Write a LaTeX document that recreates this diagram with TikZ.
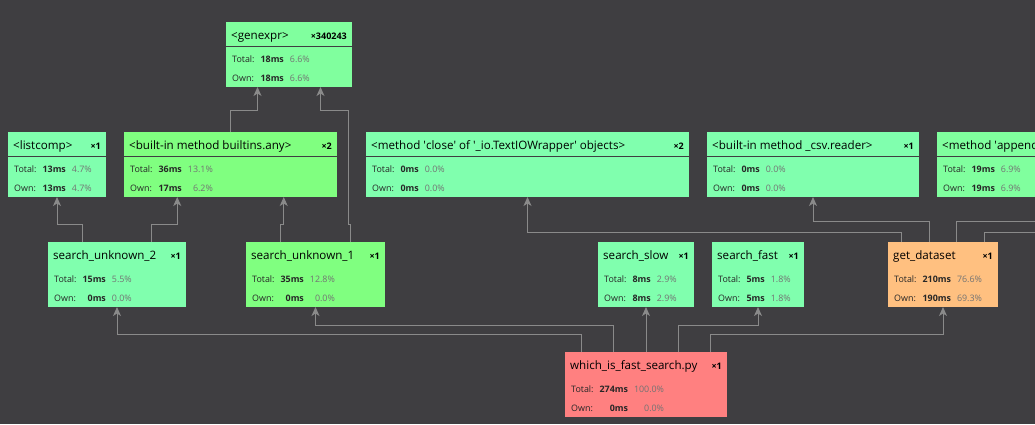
\documentclass[tikz,border=0pt]{standalone}
\usepackage{fontspec}
\setmainfont{Open Sans}
\usepackage{tikz}
\usetikzlibrary{calc,arrows.meta}

\definecolor{canvas}{RGB}{63,62,65}
\definecolor{wire}{RGB}{138,138,138}
\definecolor{mint}{RGB}{128,255,174}
\definecolor{leaf}{RGB}{128,255,158}
\definecolor{lime}{RGB}{128,255,128}
\definecolor{warm}{RGB}{255,192,128}
\definecolor{hot}{RGB}{255,128,128}

\newcommand{\sq}{\textquotesingle}
% one profiler entry: name, corner, width, colour, title, count
\newcommand{\callbox}[6]{%
  \node[callbox, fill=#4, minimum width=#3, anchor=north west] (#1) at #2 {};
  \node[fname, anchor=base west] at ([shift={(5,17)}]#1.north west) {#5};
  \node[fcount, anchor=base east] at ([shift={(-5,17)}]#1.north east) {×#6};
}
% timings of an entry: name, total, total %, own, own %
\newcommand{\calltimes}[5]{%
  \node[ftimes, anchor=base west] at ([shift={(6,40)}]#1.north west)
    {\begin{tabular}[t]{@{}l@{\hspace{6pt}}r@{\hspace{6pt}}r@{}}
      Total: & \textbf{#2} & \textcolor{black!55}{#3\%}\\
      Own:   & \textbf{#4} & \textcolor{black!55}{#5\%}
     \end{tabular}};
}

\begin{document}
\begin{tikzpicture}[x=1pt, y=-1pt,
  callbox/.style={minimum height=65, inner sep=0, outer sep=0},
  fname/.style={font=\fontsize{11.6}{14}\selectfont, inner sep=0},
  fcount/.style={font=\fontsize{9}{10}\selectfont\bfseries, inner sep=0},
  ftimes/.style={font=\fontsize{8.9}{19}\selectfont, text=black!85, inner sep=0},
  divider/.style={draw=canvas, line width=1pt},
  flow/.style={-{Stealth[length=9pt, width=8pt, inset=2.5pt]}, draw=wire, line width=1pt}]

\fill[canvas] (0,0) rectangle (1035,424);
\useasboundingbox (0,0) rectangle (1035,424);
\clip (0,0) rectangle (1035,424);

% Place the entries, row by row
\callbox{genexpr}{(226,22)}{126}{leaf}{<genexpr>}{340243}
\calltimes{genexpr}{18ms}{6.6}{18ms}{6.6}

\callbox{listcomp}{(8,132)}{98}{mint}{<listcomp>}{1}
\calltimes{listcomp}{13ms}{4.7}{13ms}{4.7}
\callbox{anyfn}{(124,132)}{213}{lime}{<built-in method builtins.any>}{2}
\calltimes{anyfn}{36ms}{13.1}{17ms}{6.2}
\callbox{closefn}{(366,132)}{323}{mint}{<method \sq close\sq\ of \sq\_io.TextIOWrapper\sq\ objects>}{2}
\calltimes{closefn}{0ms}{0.0}{0ms}{0.0}
\callbox{csvreader}{(707,132)}{212}{mint}{<built-in method \_csv.reader>}{1}
\calltimes{csvreader}{0ms}{0.0}{0ms}{0.0}
\callbox{appendfn}{(937,132)}{260}{leaf}{<method \sq append\sq\ of \sq list\sq\ objects>}{}
\calltimes{appendfn}{19ms}{6.9}{19ms}{6.9}

\foreach \n in {genexpr,listcomp,anyfn,closefn,csvreader,appendfn}
  \draw[divider] ([shift={(0,24)}]\n.north west) -- ([shift={(0,24)}]\n.north east);

\callbox{searchB}{(48,242)}{138}{mint}{search\_unknown\_2}{1}
\calltimes{searchB}{15ms}{5.5}{0ms}{0.0}
\callbox{searchA}{(246,242)}{139}{lime}{search\_unknown\_1}{1}
\calltimes{searchA}{35ms}{12.8}{0ms}{0.0}
\callbox{slow}{(598,242)}{96}{mint}{search\_slow}{1}
\calltimes{slow}{8ms}{2.9}{8ms}{2.9}
\callbox{fast}{(712,242)}{92}{mint}{search\_fast}{1}
\calltimes{fast}{5ms}{1.8}{5ms}{1.8}
\callbox{dataset}{(888,242)}{110}{warm}{get\_dataset}{1}
\calltimes{dataset}{210ms}{76.6}{190ms}{69.3}

\callbox{script}{(565,352)}{162}{hot}{which\_is\_fast\_search.py}{1}
\calltimes{script}{274ms}{100.0}{0ms}{0.0}

\coordinate (offright) at (1080,232);

% Calls from the script
\draw[flow] ($(script.north west)!.1!(script.north east)$) -- ++(0,-18) -| (searchB.south);
\draw[flow] ($(script.north west)!.3!(script.north east)$) -- ++(0,-27) -| (searchA.south);
\draw[flow] (slow.south |- script.north) -- (slow.south);
\draw[flow] ($(script.north west)!.7!(script.north east)$) -- ++(0,-27) -| (fast.south);
\draw[flow] ($(script.north west)!.9!(script.north east)$) -- ++(0,-18) -| (dataset.south);

% Calls from the search functions
\draw[flow] ($(searchB.north west)!.25!(searchB.north east)$) -- ++(0,-18) -| (listcomp.south);
\draw[flow] ($(searchB.north west)!.75!(searchB.north east)$) -- ++(0,-18) -| ($(anyfn.south west)!.25!(anyfn.south east)$);
\draw[flow] ($(searchA.north west)!.25!(searchA.north east)$) -- ++(0,-18) -| ($(anyfn.south west)!.75!(anyfn.south east)$);
\draw[flow] ($(searchA.north west)!.75!(searchA.north east)$) -- ++(0,-18) -- ++(-2,0) -- ++(0,-114) -| ($(genexpr.south west)!.75!(genexpr.south east)$);
\draw[flow] (anyfn.north) -- ++(0,-22) -| ($(genexpr.south west)!.25!(genexpr.south east)$);

% Calls from get_dataset
\draw[flow] ($(dataset.north west)!.125!(dataset.north east)$) -- ++(0,-10) -| (closefn.south);
\draw[flow] ($(dataset.north west)!.375!(dataset.north east)$) -- ++(0,-21) -| (csvreader.south);
\draw[flow] ($(dataset.north west)!.625!(dataset.north east)$) -- ++(0,-21) -| (appendfn.south);
\draw[flow] ($(dataset.north west)!.875!(dataset.north east)$) -- ++(0,-10) -- (offright);

\end{tikzpicture}
\end{document}
